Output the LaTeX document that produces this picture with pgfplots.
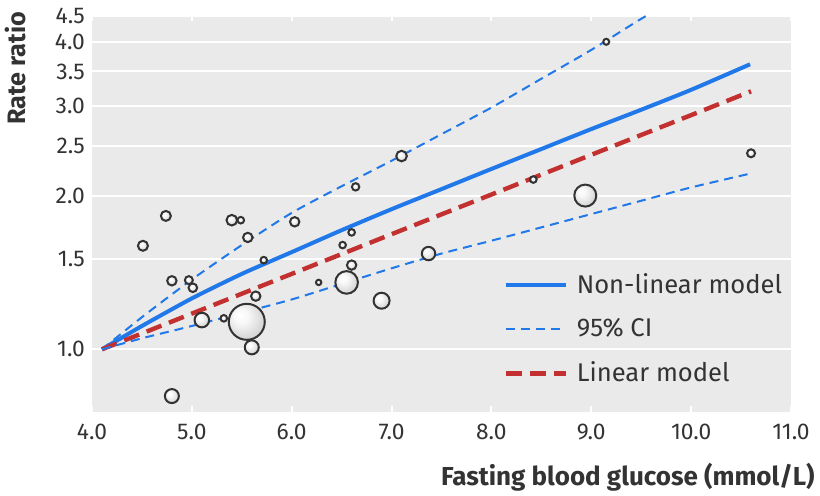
\documentclass[border=0pt]{standalone}
\usepackage{fontspec}
\setmainfont{Fira Sans}
\usepackage{pgfplots}
\pgfplotsset{compat=1.18}
\usepackage{pgfplotstable}
\definecolor{bgc}{RGB}{234,234,234}
\definecolor{nlblue}{RGB}{33,120,232}
\definecolor{linred}{RGB}{194,48,48}
\definecolor{txt}{RGB}{51,51,51}
\pgfdeclareradialshading{bub}{\pgfpoint{-10bp}{10bp}}{color(0bp)=(white); color(10bp)=(white!97!black); color(30bp)=(white!82!black); color(50bp)=(white!62!black)}
\pgfdeclareplotmark{bubble}{%
  \pgfpathcircle{\pgfpointorigin}{\pgfplotmarksize}%
  \pgfshadepath{bub}{0}%
  \pgfusepath{discard}%
  \pgfpathcircle{\pgfpointorigin}{\pgfplotmarksize}%
  \pgfusepathqstroke
}
\pgfplotstableread{
x y r
4.51 1.595 2.5
4.74 1.825 2.5
4.80 1.362 2.35
4.80 0.810 3.5
4.97 1.366 2.0
5.01 1.320 2.15
5.10 1.141 3.65
5.32 1.150 1.65
5.40 1.790 2.65
5.49 1.790 1.65
5.55 1.132 9.0
5.56 1.656 2.35
5.60 1.009 3.5
5.64 1.271 2.35
5.72 1.495 1.65
6.03 1.777 2.35
6.27 1.352 1.35
6.51 1.600 1.65
6.55 1.352 5.65
6.60 1.694 1.65
6.60 1.462 2.35
6.64 2.080 1.85
6.90 1.245 4.0
7.10 2.390 2.65
7.37 1.540 3.35
8.42 2.150 1.65
8.94 2.000 5.5
9.15 4.000 1.5
10.60 2.420 2.0
}\bubbles
\begin{document}
\begin{tikzpicture}
\begin{axis}[
  scale only axis,
  width=349.5pt, height=198pt,
  xmin=4, xmax=11,
  ymode=log, ymin=0.755, ymax=4.5,
  axis background/.style={fill=bgc},
  axis line style={draw=none},
  xtick={4,5,6,7,8,9,10,11},
  xticklabels={4.0,5.0,6.0,7.0,8.0,9.0,10.0,11.0},
  ytick={1,1.5,2,2.5,3,3.5,4,4.5},
  yticklabels={1.0,1.5,2.0,2.5,3.0,3.5,4.0,4.5},
  minor ytick={}, minor xtick={},
  log basis y=10,
  ymajorgrids,
  grid style={white, line width=1pt},
  tick align=inside,
  major tick length=2.8pt,
  xtick style={white, line width=1pt},
  ytick style={draw=none},
  tick label style={font=\fontsize{11.4}{13}\selectfont, text=txt},
  xticklabel style={yshift=-2.5pt},
  xlabel={\bfseries Fasting blood glucose (mmol/L)},
  ylabel={\bfseries Rate ratio},
  xlabel style={at={(axis description cs:1.044,-0.165)}, anchor=east, font=\fontsize{13}{15}\selectfont, text=txt},
  ylabel style={at={(axis description cs:-0.11,1.027)}, anchor=east, rotate=0, font=\fontsize{12.6}{15}\selectfont, text=txt},
  legend cell align=left,
  legend style={draw=none, fill=none, at={(rel axis cs:0.588,0.208)}, anchor=west,
    font=\fontsize{12.8}{15}\selectfont, text=txt, inner sep=0pt, row sep=11pt,
    nodes={inner sep=0pt},
    /tikz/every odd column/.append style={column sep=4.5pt}},
  legend image code/.code={\draw[#1] (0pt,0pt) -- (30pt,0pt);},
  clip=true,
]
\addplot[nlblue, line width=2pt, smooth, tension=0.4] coordinates {
(4.1,1.0) (4.5,1.111) (5.0,1.258) (5.5,1.405) (6.0,1.550) (6.5,1.711) (7.0,1.881)
(7.5,2.059) (8.0,2.255) (8.5,2.467) (9.0,2.699) (9.5,2.945) (10.0,3.222) (10.59,3.615)};
\addlegendentry{Non-linear model}
\addplot[nlblue, line width=1pt, dash pattern=on 4.5pt off 3pt, smooth, tension=0.4] coordinates {
(4.1,1.0) (4.5,1.156) (5.0,1.370) (5.5,1.600) (6.0,1.850) (6.5,2.086) (7.0,2.340)
(7.5,2.638) (8.0,2.974) (8.5,3.387) (9.0,3.857) (9.5,4.437) (10.0,5.05) (10.6,5.87)};
\addlegendentry{95\% CI}
\addplot[linred, line width=2.2pt, dash pattern=on 8pt off 4pt] coordinates {
(4.1,1.0) (10.6,3.20)};
\addlegendentry{Linear model}
\addplot[nlblue, line width=1pt, dash pattern=on 4.5pt off 3pt, forget plot, smooth, tension=0.4] coordinates {
(4.1,1.0) (4.5,1.051) (5.0,1.111) (5.5,1.179) (6.0,1.252) (6.5,1.343) (7.0,1.441)
(7.5,1.540) (8.0,1.632) (8.5,1.733) (9.0,1.840) (9.5,1.954) (10.0,2.075) (10.6,2.210)};
\addplot[scatter, only marks, mark=bubble, forget plot,
  scatter/use mapped color={draw=txt, fill=white},
  visualization depends on={\thisrow{r} \as \rr},
  scatter/@pre marker code/.append style={/tikz/mark size=\rr},
  mark options={line width=1pt, solid}]
  table[x=x, y=y] {\bubbles};
\end{axis}
\pgfresetboundingbox
\path (-46pt,-42.15pt) rectangle (364pt,205.85pt);
\end{tikzpicture}
\end{document}
